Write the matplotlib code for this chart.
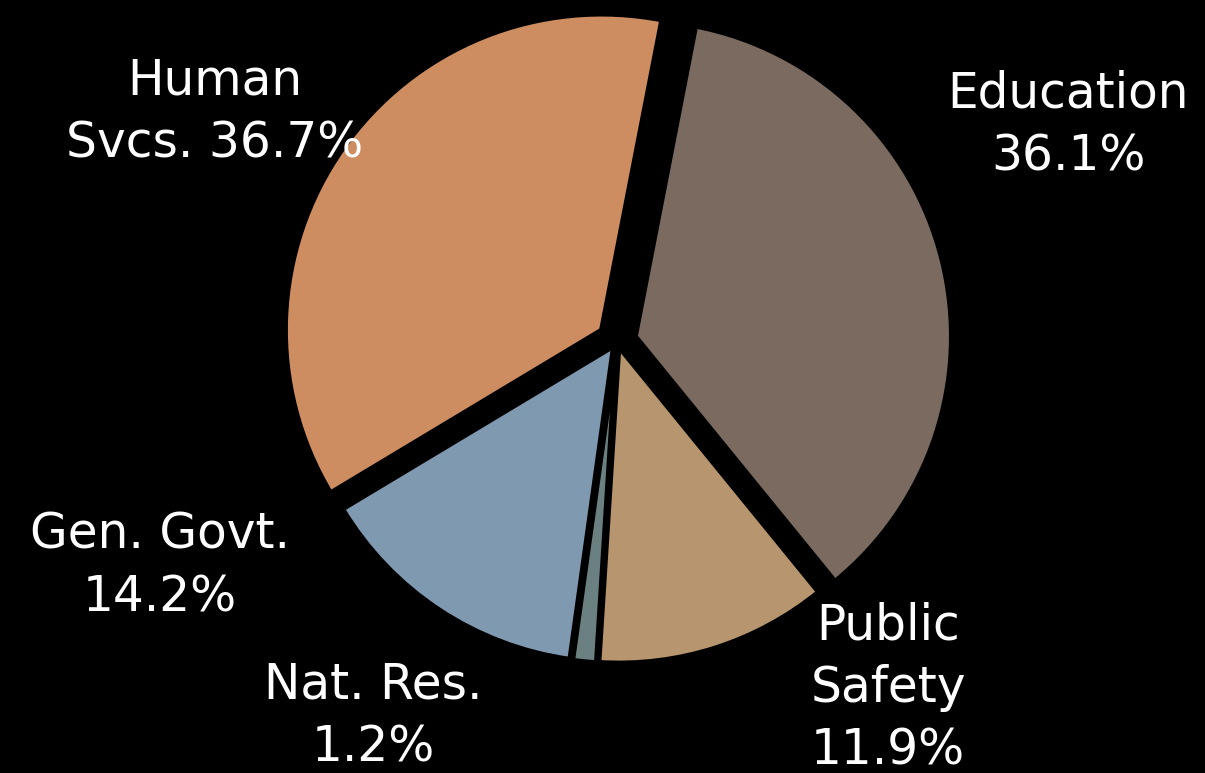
import matplotlib.pyplot as plt

categories = ["Education", "Public\nSafety", "Nat. Res.", "Gen. Govt.", "Human\nSvcs."]
shares = [36.1, 11.9, 1.2, 14.2, 36.7]
colors = ["#7B6A60", "#B7956E", "#6B8080", "#7F99B1", "#CD8D61"]
explode = [0.06, 0.02, 0.02, 0.02, 0.06]

# label centres in pixels (x, y from top)
label_px = [(1068, 125), (888, 688), (373, 716), (160, 566), (215, 112)]

W, H = 1205, 773
cx, cy, R = 617, 341, 316

fig = plt.figure(figsize=(W / 100, H / 100), dpi=100, facecolor="black")
ax = fig.add_axes([0, 0, 1, 1])
ax.set_facecolor("black")

ax.pie(shares, colors=colors, explode=explode, startangle=79, counterclock=False,
       radius=1, center=(0, 0),
       wedgeprops=dict(edgecolor="black", linewidth=3.5))

ax.set_xlim(-cx / R, (W - cx) / R)
ax.set_ylim(-(H - cy) / R, cy / R)
ax.set_aspect("equal")
ax.axis("off")

for name, v, (px, py) in zip(categories, shares, label_px):
    if name.startswith("Human"):
        txt = f"Human\nSvcs. {v:.1f}%"
    else:
        txt = f"{name}\n{v:.1f}%"
    ax.text((px - cx) / R, (cy - py) / R, txt, color="white", fontsize=35,
            ha="center", va="center", linespacing=1.38, family="DejaVu Sans")

fig.savefig("out.png", facecolor="black")
